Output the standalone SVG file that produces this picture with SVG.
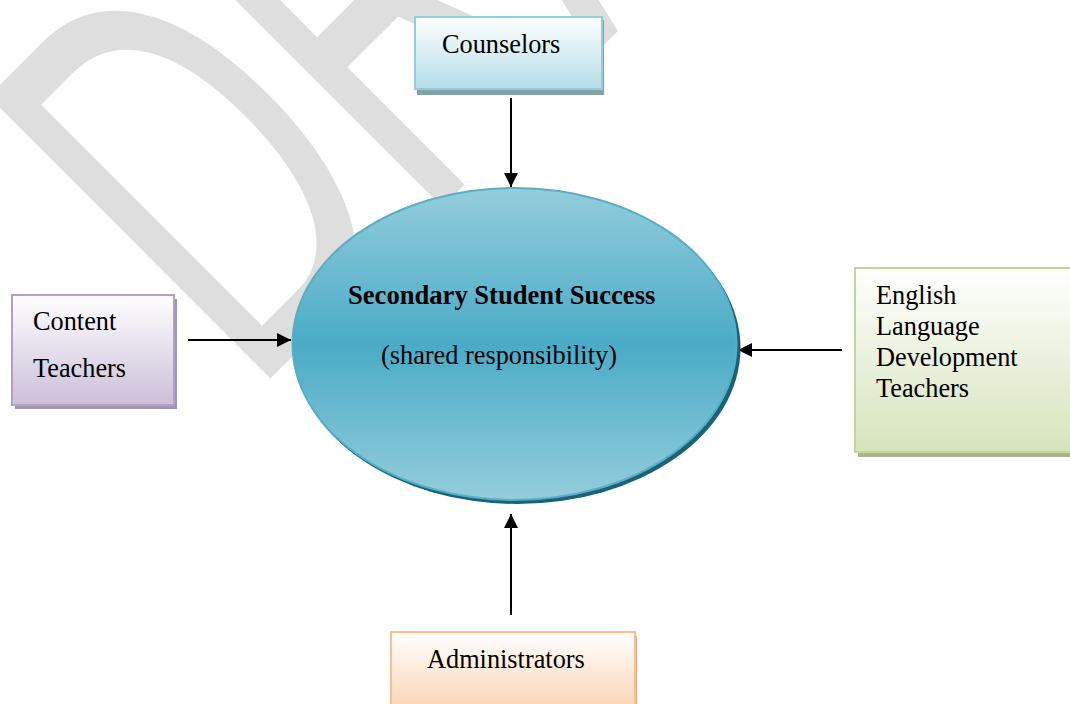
<svg xmlns="http://www.w3.org/2000/svg" width="1070" height="704" viewBox="0 0 1070 704">
  <defs>
    <linearGradient id="gCoun" x1="0" y1="0" x2="0" y2="1">
      <stop offset="0" stop-color="#ffffff"/>
      <stop offset="1" stop-color="#b3dde8"/>
    </linearGradient>
    <linearGradient id="gCont" x1="0" y1="0" x2="0" y2="1">
      <stop offset="0" stop-color="#ffffff"/>
      <stop offset="1" stop-color="#cbbfd9"/>
    </linearGradient>
    <linearGradient id="gEld" x1="0" y1="0" x2="0" y2="1">
      <stop offset="0" stop-color="#ffffff"/>
      <stop offset="1" stop-color="#d6e3bc"/>
    </linearGradient>
    <linearGradient id="gAdm" x1="0" y1="0" x2="0" y2="1">
      <stop offset="0" stop-color="#ffffff"/>
      <stop offset="1" stop-color="#fad3b2"/>
    </linearGradient>
    <linearGradient id="gEll" x1="0" y1="0" x2="0" y2="1">
      <stop offset="0" stop-color="#94cddc"/>
      <stop offset="0.5" stop-color="#4aabc6"/>
      <stop offset="1" stop-color="#94cddc"/>
    </linearGradient>
    <marker id="arr" viewBox="0 0 10 10" refX="10" refY="5" markerWidth="7.5" markerHeight="7" markerUnits="strokeWidth" orient="auto">
      <path d="M0,0 L10,5 L0,10 Z" fill="#000"/>
    </marker>
  </defs>
  <style>
    text { font-family: "Liberation Serif", "Times New Roman", serif; font-size: 26.3px; fill: #000; }
    .b { font-weight: bold; font-size: 26.6px; }
    .wm { font-family: "Liberation Sans", Arial, sans-serif; font-size: 580px; fill: #dedede; }
    .conn line { stroke: #000; stroke-width: 2; marker-end: url(#arr); }
  </style>

  <g id="watermark">
    <text class="wm" transform="translate(251,398) rotate(-45) scale(0.58,1)">DRAFT</text>
  </g>

  <g id="connectors" class="conn">
    <line x1="511" y1="98" x2="511" y2="187"/>
    <line x1="188" y1="340" x2="291" y2="340"/>
    <line x1="842" y1="350" x2="738" y2="350"/>
    <line x1="511" y1="615" x2="511" y2="514"/>
  </g>

  <g id="center">
    <ellipse cx="517.5" cy="348" rx="223" ry="156" fill="#235f72"/>
    <ellipse cx="514.5" cy="344" rx="222" ry="156" fill="url(#gEll)" stroke="#52b0c9" stroke-width="2"/>
    <text class="b" x="348" y="304">Secondary Student Success</text>
    <text x="381" y="364">(shared responsibility)</text>
  </g>

  <g id="counselors">
    <rect x="417" y="20" width="187" height="75" fill="#86a0a8"/>
    <rect x="415" y="17" width="187" height="72" fill="url(#gCoun)" stroke="#92cddc" stroke-width="2"/>
    <text x="442" y="53">Counselors</text>
  </g>

  <g id="content">
    <rect x="15" y="299" width="162" height="110" fill="#a196ae"/>
    <rect x="12" y="295" width="162" height="110" fill="url(#gCont)" stroke="#b2a1c7" stroke-width="2"/>
    <text x="33" y="330">Content</text>
    <text x="33" y="377">Teachers</text>
  </g>

  <g id="eld">
    <rect x="858" y="273" width="220" height="184" fill="#a9b58f"/>
    <rect x="855" y="268" width="220" height="184" fill="url(#gEld)" stroke="#c2d69b" stroke-width="2"/>
    <text x="876" y="304">English</text>
    <text x="876" y="335">Language</text>
    <text x="876" y="366">Development</text>
    <text x="876" y="397">Teachers</text>
  </g>

  <g id="administrators">
    <rect x="394" y="636" width="243" height="80" fill="#d8ab8c"/>
    <rect x="391" y="632" width="244" height="80" fill="url(#gAdm)" stroke="#fabf8f" stroke-width="2"/>
    <text x="427" y="668">Administrators</text>
  </g>
</svg>
